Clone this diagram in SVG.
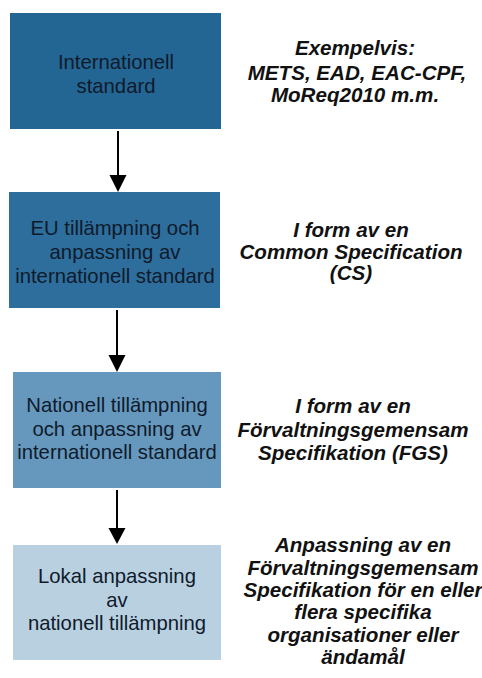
<svg xmlns="http://www.w3.org/2000/svg" width="482" height="678" viewBox="0 0 482 678">
<defs>
<style>
.box text{font-family:"Liberation Sans",Arial,sans-serif;font-size:20.3px;fill:#0f1a2b;text-anchor:middle}
.note text{font-family:"Liberation Sans",Arial,sans-serif;font-size:20.6px;font-weight:bold;font-style:italic;fill:#111;text-anchor:middle}
.conn line{stroke:#000;stroke-width:2}
.conn polygon{fill:#000}
</style>
</defs>
<rect width="482" height="678" fill="#fff"/>
<g id="n1" class="box">
<rect x="10" y="13" width="211" height="116" fill="#246693"/>
<text x="116" y="69">Internationell</text>
<text x="116" y="93">standard</text>
</g>
<g id="n2" class="box">
<rect x="9" y="192" width="211" height="116" fill="#2d6e9c"/>
<text x="115" y="235">EU tillämpning och</text>
<text x="115" y="259">anpassning av</text>
<text x="115" y="283">internationell standard</text>
</g>
<g id="n3" class="box">
<rect x="13" y="372" width="208" height="116" fill="#6698bd"/>
<text x="117" y="412">Nationell tillämpning</text>
<text x="117" y="436">och anpassning av</text>
<text x="117" y="459">internationell standard</text>
</g>
<g id="n4" class="box">
<rect x="13" y="545" width="208" height="115" fill="#b9d0e1"/>
<text x="117" y="583">Lokal anpassning</text>
<text x="117" y="607">av</text>
<text x="117" y="630">nationell tillämpning</text>
</g>
<g id="t1" class="note">
<text x="355" y="55">Exempelvis:</text>
<text x="357" y="80">METS, EAD, EAC-CPF,</text>
<text x="355" y="102">MoReq2010 m.m.</text>
</g>
<g id="t2" class="note">
<text x="351" y="237">I form av en</text>
<text x="351" y="259">Common Specification</text>
<text x="351" y="280">(CS)</text>
</g>
<g id="t3" class="note">
<text x="353" y="413">I form av en</text>
<text x="353" y="437">Förvaltningsgemensam</text>
<text x="353" y="460">Specifikation (FGS)</text>
</g>
<g id="t4" class="note">
<text x="363" y="552">Anpassning av en</text>
<text x="363" y="575">Förvaltningsgemensam</text>
<text x="363" y="597">Specifikation för en eller</text>
<text x="363" y="619">flera specifika</text>
<text x="363" y="642">organisationer eller</text>
<text x="363" y="664">ändamål</text>
</g>
<g id="connectors" class="conn">
<line x1="118" y1="131" x2="118" y2="177"/>
<polygon points="109.5,175 126.5,175 118,192"/>
<line x1="117" y1="310" x2="117" y2="357"/>
<polygon points="108.5,355 125.5,355 117,372"/>
<line x1="117" y1="490" x2="117" y2="530"/>
<polygon points="108.5,528 125.5,528 117,544"/>
</g>
</svg>
